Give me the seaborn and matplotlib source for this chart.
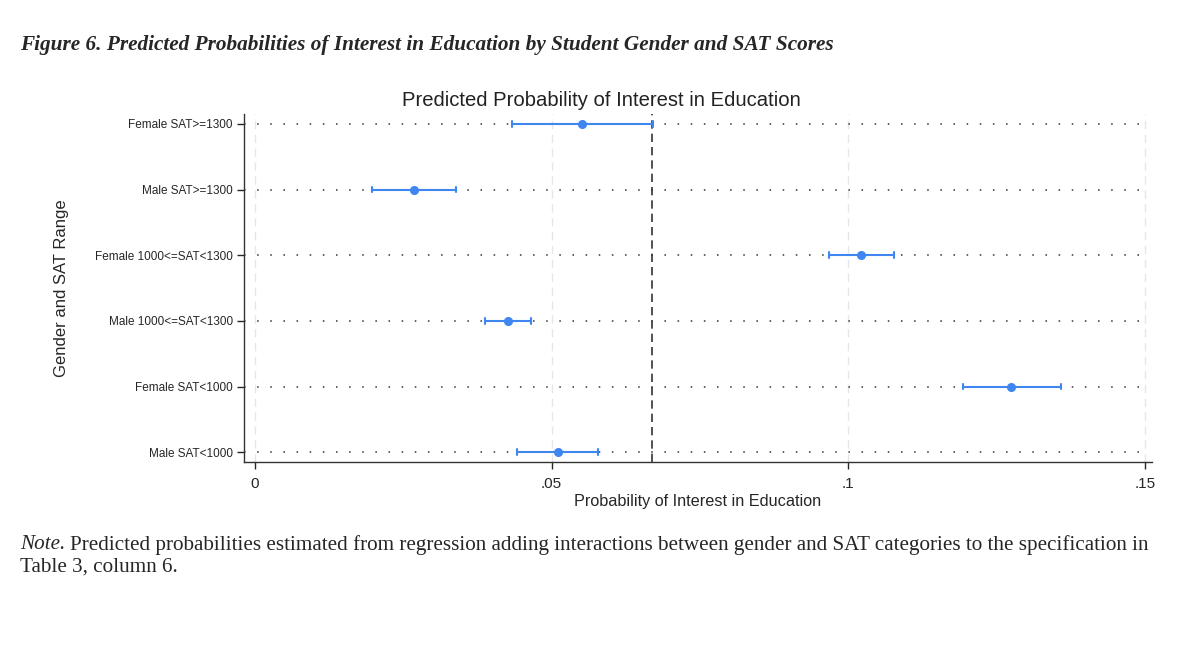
import numpy as np
import pandas as pd
import matplotlib
matplotlib.use('Agg')
import matplotlib.pyplot as plt
import seaborn as sns

# predicted probabilities and 95% CI bounds
groups = ['Female SAT>=1300', 'Male SAT>=1300', 'Female 1000<=SAT<1300',
          'Male 1000<=SAT<1300', 'Female SAT<1000', 'Male SAT<1000']
estimate = [0.0552, 0.0268, 0.1022, 0.0427, 0.1275, 0.0511]
ci_low = [0.0433, 0.0198, 0.0967, 0.0388, 0.1193, 0.0442]
ci_high = [0.0671, 0.0339, 0.1077, 0.0466, 0.1359, 0.0579]
ref_line = 0.067
x_ticks = [0, 0.05, 0.1, 0.15]
x_ticklabels = ['0', '.05', '.1', '.15']

# long table: lo / est / hi per group; median -> estimate, 100% interval -> CI
rows = []
for g, lo, est, hi in zip(groups, ci_low, estimate, ci_high):
    for v in (lo, est, hi):
        rows.append({'group': g, 'prob': v})
df = pd.DataFrame(rows)

sns.set_theme(style='white')
plt.rcParams['font.family'] = ['Liberation Sans', 'DejaVu Sans']
serif = ['Liberation Serif', 'DejaVu Serif']

fig = plt.figure(figsize=(12, 6.47), dpi=100)
ax = fig.add_axes([0.2033, 0.2859, 0.7567, 0.5379])

blue = '#3f86f0'
sns.pointplot(data=df, x='prob', y='group', order=groups, orient='h',
              estimator=np.median, errorbar=('pi', 100), linestyle='none',
              color=blue, capsize=0.09, err_kws={'linewidth': 1.5},
              markersize=4.5, ax=ax, zorder=3)

# Stata-like grid: faint dashed verticals, dotted black horizontals
for xt in x_ticks:
    ax.axvline(xt, color='#e6e6e6', linestyle=(0, (6, 4)), linewidth=1, zorder=0)
for i in range(len(groups)):
    ax.axhline(i, color='#333333', linestyle=(0, (1, 7.6)), linewidth=1.1,
               xmax=0.995, zorder=2.5)
ax.axvline(ref_line, color='#333333', linestyle=(0, (5, 3)), linewidth=1.2, zorder=2)

ax.set_xlim(-0.00185, 0.1512)
ax.set_ylim(5.15, -0.15)
ax.set_xticks(x_ticks)
ax.set_xticklabels(x_ticklabels, fontsize=11)
ax.tick_params(axis='y', labelsize=8.5, length=5, width=1, left=True, pad=3)
ax.tick_params(axis='x', length=5, width=1, bottom=True, pad=6)
for side in ('top', 'right'):
    ax.spines[side].set_visible(False)
for side in ('left', 'bottom'):
    ax.spines[side].set_color('#333333')
    ax.spines[side].set_linewidth(1)

fig.text(0.501, 0.845, 'Predicted Probability of Interest in Education',
         fontsize=14.6, color='#222222', ha='center', va='center')
ax.set_xlabel('Probability of Interest in Education', fontsize=11.7, labelpad=2)
ax.set_ylabel('Gender and SAT Range', fontsize=12, labelpad=19)

fig.text(0.0167, 0.93, 'Figure 6. Predicted Probabilities of Interest in Education '
         'by Student Gender and SAT Scores', fontsize=15.3, fontweight='bold',
         fontstyle='italic', family=serif, va='center')

note_y = 0.158
t = fig.text(0.0167, note_y, 'Note.', fontsize=15.2, fontstyle='italic',
             family=serif, va='center')
fig.canvas.draw()
bb = t.get_window_extent().transformed(fig.transFigure.inverted())
fig.text(bb.x1 + 0.004, note_y, 'Predicted probabilities estimated from regression '
         'adding interactions between gender and SAT categories to the specification in',
         fontsize=15.2, family=serif, va='center')
fig.text(0.0167, 0.123, 'Table 3, column 6.', fontsize=15.2, family=serif,
         va='center')

fig.savefig('out.png', dpi=100, facecolor='white')
